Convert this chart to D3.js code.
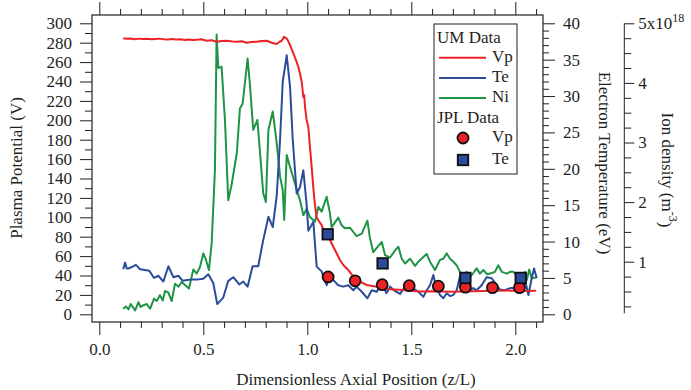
<!DOCTYPE html>
<html><head><meta charset="utf-8">
<script src="https://cdn.jsdelivr.net/npm/d3@7"></script>
<style>
body{margin:0;background:#fff}
svg{display:block}
text{font-family:"Liberation Serif","Times New Roman",serif;fill:#231f20}
</style></head><body>
<svg id="chart" width="691" height="390"></svg>
<script>
// ---- Data ----
const umVpPos = [0.115,0.13,0.15,0.17,0.19,0.21,0.23,0.25,0.27,0.29,0.31,0.33,0.35,0.37,0.39,0.41,0.43,0.45,0.47,0.49,0.516,0.54,0.564,0.59,0.613,0.64,0.661,0.685,0.709,0.73,0.757,0.78,0.805,0.829,0.853,0.867,0.877,0.888,0.896,0.904,0.917,0.933,0.949,0.957,0.965,0.973,0.981,0.985,0.989,0.997,1.005,1.013,1.021,1.029,1.037,1.045,1.053,1.069,1.085,1.097,1.109,1.125,1.141,1.157,1.173,1.197,1.221,1.253,1.285,1.334,1.398,1.462,1.539,1.6,1.7,1.8,1.9,2.0,2.05,2.1];
const umVp = [284.5,284,284.3,283.6,284.2,283.8,284.1,283.5,283.9,284.2,283.6,283.3,283.8,283.2,283.5,282.8,283.3,282.7,283.1,283.5,282,282.5,281,281.8,282,281.3,281,281.5,280,280.8,281,281.8,282,280,278.7,281,282,286,285,283.5,277.6,269,260,255,248,240,224,226,214,200,193,172,152,130,112,100,97,92,83.5,80,76.6,69.7,62.9,56,50.8,45.7,38.8,33.6,30.2,28.5,25.8,25,23.5,23.8,23.3,23.8,24.2,24.5,24,24.3];

const umTePos = [0.115,0.124,0.132,0.14,0.156,0.176,0.196,0.22,0.24,0.263,0.284,0.308,0.332,0.356,0.38,0.401,0.423,0.449,0.476,0.5,0.524,0.548,0.567,0.596,0.62,0.644,0.673,0.692,0.713,0.737,0.764,0.788,0.813,0.834,0.853,0.869,0.882,0.901,0.917,0.93,0.949,0.965,0.981,0.997,1.005,1.021,1.029,1.045,1.069,1.093,1.109,1.125,1.149,1.173,1.197,1.221,1.237,1.262,1.289,1.31,1.334,1.358,1.38,1.398,1.417,1.446,1.47,1.494,1.518,1.534,1.558,1.574,1.59,1.606,1.619,1.638,1.654,1.67,1.686,1.702,1.718,1.734,1.75,1.766,1.782,1.798,1.814,1.838,1.862,1.887,1.902,1.926,1.95,1.975,1.999,2.023,2.047,2.063,2.079,2.09,2.103];
const umTe = [6.2,7.1,6.3,6.3,6.5,6.8,6.2,6.1,6.0,5.0,5.3,4.5,6.6,5.1,5.3,4.6,4.7,4.8,4.8,4.9,5.5,4.3,1.4,2.3,4.6,5.1,4.1,4.5,3.8,6.6,6.6,10.2,13.4,12.0,16.3,24.0,32.0,35.6,31.3,24.0,16.6,17.5,19.8,15.0,11.5,12.3,12.7,6.55,5.9,4.0,5.4,4.7,4.0,3.8,4.0,3.3,3.8,3.1,2.2,3.3,3.1,4.5,2.9,3.8,3.3,2.8,3.8,3.6,3.4,3.1,2.4,3.3,4.0,5.4,3.8,2.65,2.2,2.9,2.5,2.65,3.3,5.2,4.5,3.4,3.3,3.6,3.3,4.0,5.1,4.95,4.3,3.4,3.3,3.6,3.6,3.7,4.7,2.65,4.95,6.3,5.0];

const umNiPos = [0.115,0.128,0.14,0.151,0.163,0.172,0.188,0.199,0.212,0.228,0.244,0.263,0.276,0.292,0.305,0.316,0.332,0.348,0.364,0.381,0.396,0.412,0.431,0.452,0.468,0.484,0.5,0.513,0.527,0.54,0.556,0.564,0.572,0.588,0.604,0.62,0.636,0.661,0.676,0.689,0.713,0.725,0.74,0.76,0.773,0.788,0.801,0.813,0.834,0.853,0.869,0.882,0.889,0.901,0.917,0.941,0.949,0.965,0.981,0.997,1.013,1.037,1.053,1.069,1.093,1.109,1.117,1.149,1.165,1.181,1.205,1.221,1.237,1.262,1.289,1.30,1.317,1.338,1.358,1.374,1.398,1.422,1.438,1.454,1.47,1.494,1.518,1.534,1.558,1.574,1.59,1.614,1.638,1.654,1.67,1.686,1.702,1.718,1.734,1.75,1.766,1.782,1.798,1.814,1.83,1.846,1.865,1.887,1.902,1.918,1.935,1.959,1.975,1.991,2.007,2.031,2.047,2.055,2.067,2.079,2.103];
const umNi = [0.21,0.25,0.20,0.29,0.23,0.18,0.32,0.24,0.27,0.29,0.21,0.38,0.34,0.44,0.35,0.51,0.48,0.34,0.63,0.58,0.66,0.61,0.55,0.87,0.80,0.91,1.14,1.03,0.86,1.3,2.54,4.81,4.25,4.27,3.38,2.03,2.29,2.82,3.57,3.65,4.41,3.94,3.21,3.38,2.82,2.15,2.0,3.21,3.52,2.99,2.43,2.20,1.70,2.79,2.59,2.31,2.20,2.03,1.78,1.89,1.75,1.67,1.92,1.84,2.09,1.81,1.58,1.74,1.61,1.56,1.57,1.50,1.43,1.47,1.69,1.42,1.16,1.25,1.33,1.11,1.07,1.19,1.25,1.05,0.97,1.05,0.93,1.0,1.08,1.13,1.0,0.86,1.03,1.05,1.14,1.05,1.0,0.94,0.83,0.73,0.83,0.74,0.81,0.89,0.80,0.86,0.79,0.81,0.83,0.94,0.83,0.80,0.83,0.83,0.77,0.72,0.83,0.69,0.87,0.72,0.74];

const jplVpPos = [1.10,1.23,1.36,1.49,1.63,1.76,1.89,2.02];
const jplVp = [38.5,34.5,30.5,29.5,29,28,27.5,27.5];
const jplTePos = [1.098,1.362,1.76,2.026];
const jplTe = [11.0,7.0,5.0,5.0];

const xTicks = [0,0.5,1.0,1.5,2.0];
const vTicks = [0,20,40,60,80,100,120,140,160,180,200,220,240,260,280,300];
const teTicks = [0,5,10,15,20,25,30,35,40];
const niTicks = [1,2,3,4];

const RED = "#ec2227", BLUE = "#2b4c9b", GREEN = "#1f9447", INK = "#231f20";
const FS = 17;

// ---- Scales ----
const x = d3.scaleLinear().domain([0, 2]).range([99.3, 515.3]);
const yV = d3.scaleLinear().domain([0, 300]).range([314.3, 23.3]);
const yT = d3.scaleLinear().domain([0, 40]).range([314.3, 23.3]);
const yN = d3.scaleLinear().domain([0, 5]).range([321.3, 23.3]);

const svg = d3.select("#chart");
const frame = {l: 92, t: 15, r: 543, b: 322};

function styleAxis(g) {
  g.attr("font-family", null).attr("font-size", null);
  g.select(".domain").remove();
  g.selectAll("line").attr("stroke", INK).attr("stroke-width", 1);
  g.selectAll("text").attr("font-size", FS).attr("fill", INK);
}

const xMinor = d3.range(0, 22).map(i => i / 10).filter(v => !xTicks.some(t => Math.abs(t - v) < 1e-6));
const vMinor = d3.range(10, 300, 20);
const teMinor = d3.range(0, 41).filter(v => v % 5 !== 0);
const niMinor = d3.range(1, 20).map(i => i / 4).filter(v => v % 1 !== 0);

// bottom
svg.append("g").attr("transform", `translate(0,${frame.b})`)
  .call(d3.axisBottom(x).tickValues(xTicks).tickSize(13).tickPadding(8).tickFormat(d3.format(".1f"))).call(styleAxis);
svg.append("g").attr("transform", `translate(0,${frame.b})`)
  .call(d3.axisBottom(x).tickValues(xMinor).tickSize(6).tickFormat("")).call(styleAxis);
// top mirror
svg.append("g").attr("transform", `translate(0,${frame.t})`)
  .call(d3.axisTop(x).tickValues(xTicks).tickSize(13).tickFormat("")).call(styleAxis);
svg.append("g").attr("transform", `translate(0,${frame.t})`)
  .call(d3.axisTop(x).tickValues(xMinor).tickSize(6).tickFormat("")).call(styleAxis);
// left
svg.append("g").attr("transform", `translate(${frame.l},0)`)
  .call(d3.axisLeft(yV).tickValues(vTicks).tickSize(12).tickPadding(8)).call(styleAxis);
svg.append("g").attr("transform", `translate(${frame.l},0)`)
  .call(d3.axisLeft(yV).tickValues(vMinor).tickSize(7).tickFormat("")).call(styleAxis);
// right Te
svg.append("g").attr("transform", `translate(${frame.r},0)`)
  .call(d3.axisRight(yT).tickValues(teTicks).tickSize(12).tickPadding(8)).call(styleAxis);
svg.append("g").attr("transform", `translate(${frame.r},0)`)
  .call(d3.axisRight(yT).tickValues(teMinor).tickSize(6).tickFormat("")).call(styleAxis);
// ion density axis
const ionX = 624.3;
svg.append("line").attr("x1", ionX).attr("x2", ionX).attr("y1", yN(5)).attr("y2", 313.3)
  .attr("stroke", INK).attr("stroke-width", 1);
svg.append("g").attr("transform", `translate(${ionX},0)`)
  .call(d3.axisRight(yN).tickValues(niTicks.concat([5])).tickSize(10).tickPadding(4)
    .tickFormat(d => d === 5 ? "" : d)).call(styleAxis);
svg.append("g").attr("transform", `translate(${ionX},0)`)
  .call(d3.axisRight(yN).tickValues(niMinor).tickSize(7).tickFormat("")).call(styleAxis);
const top5 = svg.append("text").attr("x", ionX + 14).attr("y", yN(5)).attr("dy", "0.32em")
  .attr("font-size", FS);
top5.append("tspan").text("5x10");
top5.append("tspan").attr("dy", "-0.55em").attr("font-size", 12).text("18");

// frame
svg.append("rect").attr("x", frame.l).attr("y", frame.t)
  .attr("width", frame.r - frame.l).attr("height", frame.b - frame.t)
  .attr("fill", "none").attr("stroke", INK).attr("stroke-width", 1.2);

// lines
const plot = svg.append("g");
function drawLine(pos, vals, ys, color) {
  const pts = pos.map((p, i) => [x(p), ys(vals[i])]);
  plot.append("path").attr("d", d3.line()(pts)).attr("fill", "none")
    .attr("stroke", color).attr("stroke-width", 2).attr("stroke-linejoin", "round");
}
drawLine(umNiPos, umNi, yN, GREEN);
drawLine(umTePos, umTe, yT, BLUE);
drawLine(umVpPos, umVp, yV, RED);

// JPL markers
plot.selectAll("circle.jvp").data(jplVpPos).join("circle")
  .attr("cx", (d) => x(d)).attr("cy", (d, i) => yV(jplVp[i])).attr("r", 5.5)
  .attr("fill", RED).attr("stroke", "#111").attr("stroke-width", 1.8);
const sq = 10.5;
plot.selectAll("rect.jte").data(jplTePos).join("rect")
  .attr("x", d => x(d) - sq / 2).attr("y", (d, i) => yT(jplTe[i]) - sq / 2)
  .attr("width", sq).attr("height", sq)
  .attr("fill", BLUE).attr("stroke", "#111").attr("stroke-width", 1.8);

// axis titles
svg.append("text").attr("transform", "translate(18,168) rotate(-90)")
  .attr("text-anchor", "middle").attr("dominant-baseline", "middle").attr("font-size", FS)
  .text("Plasma Potential (V)");
svg.append("text").attr("x", 356).attr("y", 381)
  .attr("text-anchor", "middle").attr("dominant-baseline", "middle").attr("font-size", FS)
  .text("Dimensionless Axial Position (z/L)");
svg.append("text").attr("transform", "translate(603,163) rotate(90)")
  .attr("text-anchor", "middle").attr("dominant-baseline", "middle").attr("font-size", FS)
  .text("Electron Temperature (eV)");
const ionT = svg.append("text").attr("transform", "translate(666,170) rotate(90)")
  .attr("text-anchor", "middle").attr("dominant-baseline", "middle").attr("font-size", FS);
ionT.append("tspan").text("Ion density (m");
ionT.append("tspan").attr("dy", "-0.5em").attr("font-size", 12).text("-3");
ionT.append("tspan").attr("dy", "0.5em").text(")");

// legend
const lg = svg.append("g");
lg.append("rect").attr("x", 434).attr("y", 24).attr("width", 83).attr("height", 150)
  .attr("fill", "#fff").attr("stroke", INK).attr("stroke-width", 1);
const lt = (t, xx, yy) => lg.append("text").attr("x", xx).attr("y", yy)
  .attr("dominant-baseline", "middle").attr("font-size", FS).text(t);
lt("UM Data", 437, 39);
[["Vp", RED, 57.7], ["Te", BLUE, 78], ["Ni", GREEN, 98]].forEach(([t, c, yy]) => {
  lg.append("line").attr("x1", 439).attr("x2", 486).attr("y1", yy).attr("y2", yy)
    .attr("stroke", c).attr("stroke-width", 2);
  lt(t, 492, yy);
});
lt("JPL Data", 437, 119);
lg.append("circle").attr("cx", 463).attr("cy", 138).attr("r", 5.5)
  .attr("fill", RED).attr("stroke", "#111").attr("stroke-width", 1.8);
lt("Vp", 492, 138);
lg.append("rect").attr("x", 463 - sq / 2).attr("y", 160 - sq / 2).attr("width", sq).attr("height", sq)
  .attr("fill", BLUE).attr("stroke", "#111").attr("stroke-width", 1.8);
lt("Te", 492, 160);
</script>
</body></html>
